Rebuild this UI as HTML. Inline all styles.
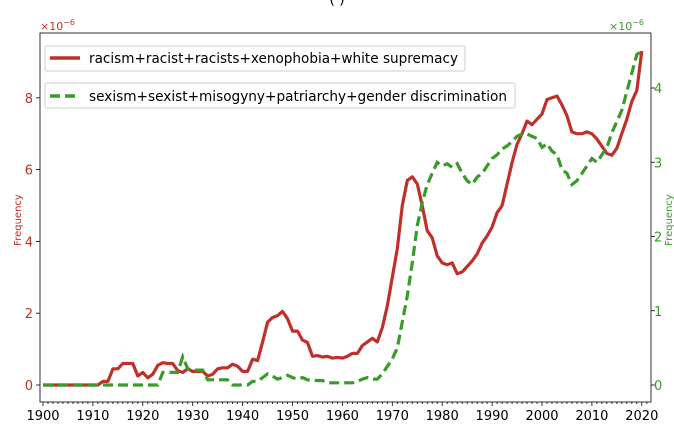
<!DOCTYPE html><html><head><meta charset="utf-8"><style>body{margin:0;background:#fff}svg{font-family:"DejaVu Sans","Liberation Sans",sans-serif}</style></head><body>
<svg id="s" width="674" height="428" xmlns="http://www.w3.org/2000/svg">
<text x="337" y="4" text-anchor="middle" font-size="14">(                    )</text>
<rect x="40" y="33" width="611" height="369" fill="none" stroke="#000" stroke-width="0.8"/>
<g id="ax" font-size="13"></g>
<text x="40" y="30" font-size="11" fill="#c0302a">×10<tspan dy="-5" font-size="8">−6</tspan></text>
<text x="609" y="30" font-size="11" fill="#3a9a2a">×10<tspan dy="-5" font-size="8">−6</tspan></text>
<text transform="translate(21,220) rotate(-90)" text-anchor="middle" font-size="10" fill="#c0302a">Frequency</text>
<text transform="translate(672,220) rotate(-90)" text-anchor="middle" font-size="10" fill="#3a9a2a">Frequency</text>
<g id="lines"></g>
<rect x="45" y="46" width="420" height="25" fill="#fff" stroke="#ccc" rx="2"/>
<line x1="50" y1="58" x2="80" y2="58" stroke="#c0302a" stroke-width="3.5"/>
<text x="89" y="63" font-size="14" textLength="369" lengthAdjust="spacingAndGlyphs">racism+racist+racists+xenophobia+white supremacy</text>
<rect x="45" y="83" width="470" height="25" fill="#fff" stroke="#ccc" rx="2"/>
<line x1="50" y1="96" x2="80" y2="96" stroke="#3a9a2a" stroke-width="3.5" stroke-dasharray="10,5"/>
<text x="89" y="101" font-size="14" textLength="418" lengthAdjust="spacingAndGlyphs">sexism+sexist+misogyny+patriarchy+gender discrimination</text>
</svg>
<script>
var R=[0,0,0,0,0,0,0,0,0,0,0,0,0.1,0.1,0.45,0.45,0.6,0.6,0.6,0.25,0.35,0.2,0.3,0.55,0.62,0.6,0.6,0.4,0.35,0.45,0.38,0.38,0.38,0.25,0.3,0.45,0.48,0.48,0.58,0.52,0.38,0.38,0.72,0.68,1.2,1.75,1.88,1.93,2.05,1.85,1.5,1.5,1.25,1.18,0.8,0.82,0.78,0.8,0.75,0.77,0.75,0.8,0.88,0.88,1.1,1.2,1.3,1.2,1.6,2.2,3.0,3.8,5.0,5.7,5.8,5.6,5.0,4.3,4.1,3.6,3.4,3.35,3.4,3.1,3.15,3.3,3.45,3.65,3.95,4.15,4.4,4.8,5.0,5.6,6.2,6.7,7.0,7.35,7.25,7.4,7.55,7.95,8.0,8.05,7.8,7.5,7.05,7.0,7.0,7.05,7.0,6.85,6.65,6.45,6.4,6.6,7.0,7.4,7.9,8.2,9.3];
var G=[0,0,0,0,0,0,0,0,0,0,0,0,0,0,0,0,0,0,0,0,0,0,0,0,0.17,0.17,0.17,0.17,0.38,0.22,0.2,0.2,0.2,0.07,0.07,0.07,0.07,0.07,0,0,0,0,0.05,0.05,0.1,0.15,0.12,0.08,0.1,0.13,0.1,0.08,0.1,0.07,0.06,0.06,0.06,0.03,0.03,0.03,0.03,0.03,0.03,0.05,0.08,0.1,0.08,0.08,0.15,0.25,0.35,0.5,0.85,1.2,1.65,2.15,2.45,2.7,2.85,3.0,2.95,2.98,2.93,2.98,2.85,2.75,2.7,2.8,2.85,2.95,3.05,3.1,3.18,3.22,3.28,3.35,3.38,3.38,3.35,3.32,3.2,3.25,3.15,3.1,2.9,2.85,2.7,2.75,2.85,2.95,3.05,3.0,3.1,3.2,3.4,3.55,3.7,3.95,4.2,4.45,4.5];
function X(y){return 43+(y-1900)*4.99}
var pr=R.map((v,i)=>X(1900+i).toFixed(1)+","+(385-v*35.9).toFixed(1)).join(" ");
var pg=G.map((v,i)=>X(1900+i).toFixed(1)+","+(385-v*74.25).toFixed(1)).join(" ");
var h='<polyline points="'+pr+'" fill="none" stroke="#c0302a" stroke-width="3.2" stroke-linejoin="round"/>';
h+='<polyline points="'+pg+'" fill="none" stroke="#3a9a2a" stroke-width="3.2" stroke-dasharray="10,5"/>';
document.getElementById('lines').innerHTML=h;
var a='';
for(var y=1900;y<=2021;y++){var x=X(y);var big=y%10==0;a+='<line x1="'+x+'" y1="402" x2="'+x+'" y2="'+(big?406:404)+'" stroke="#000" stroke-width="0.8"/>';if(big)a+='<text x="'+x+'" y="420" text-anchor="middle">'+y+'</text>';}
for(var v=0;v<=8;v+=2){var yy=385-v*35.9;a+='<line x1="36" y1="'+yy+'" x2="40" y2="'+yy+'" stroke="#000" stroke-width="0.8"/><text x="33" y="'+(yy+5)+'" text-anchor="end" fill="#c0302a">'+v+'</text>';}
for(var v=0;v<=4;v++){var yy=385-v*74.25;a+='<line x1="651" y1="'+yy+'" x2="655" y2="'+yy+'" stroke="#000" stroke-width="0.8"/><text x="654" y="'+(yy+5)+'" fill="#3a9a2a">'+v+'</text>';}
document.getElementById('ax').innerHTML=a;
</script>
</body></html>
